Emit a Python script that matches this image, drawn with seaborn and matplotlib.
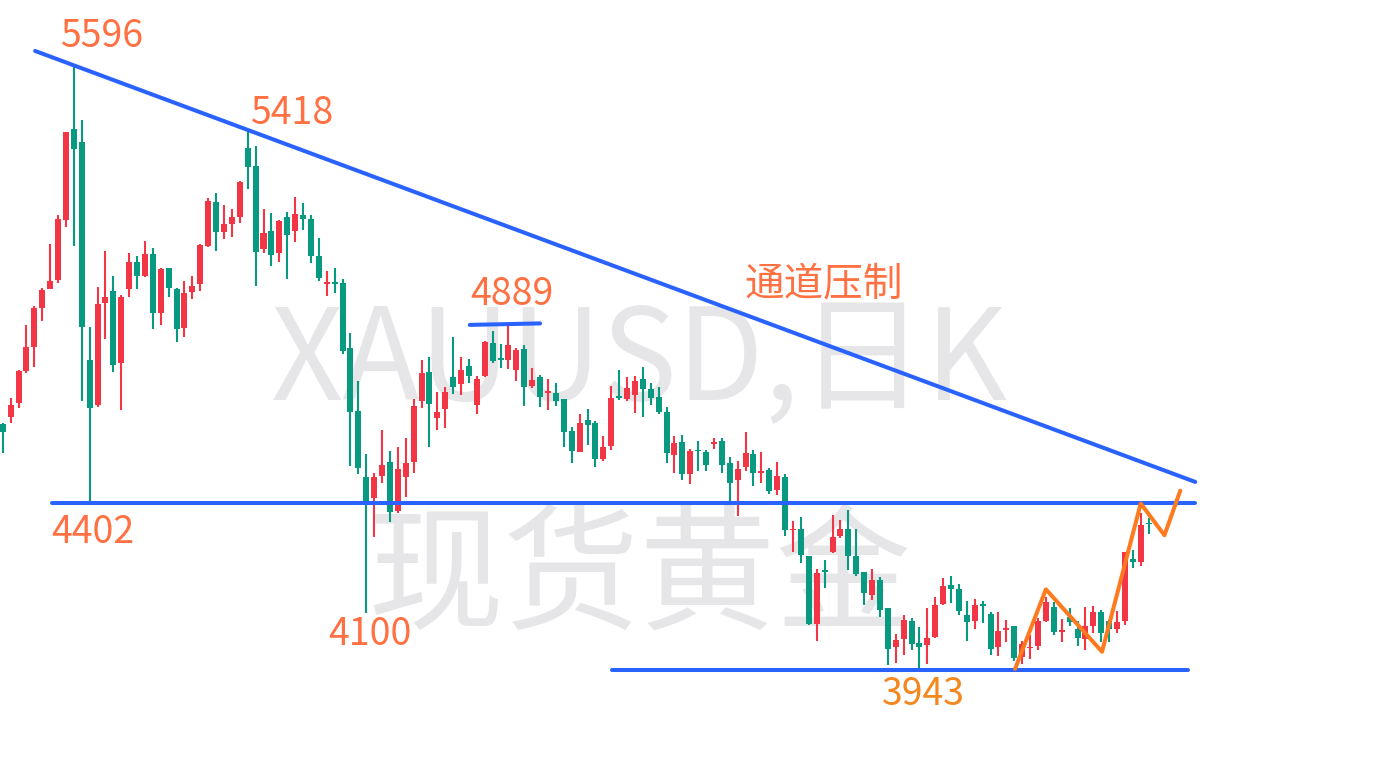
import matplotlib
matplotlib.use("Agg", force=True)
import matplotlib.pyplot as plt
import numpy as np
import seaborn as sns

# daily XAUUSD candles
opens = [4618, 4638, 4676, 4764, 4829, 4936, 4988, 5012, 5176, 5425,
         5390, 4793, 4670, 4950, 4982, 4785, 4986, 5061, 5023, 5083,
         4922, 5045, 4987, 4881, 4980, 5001, 5105, 5225, 5144, 5165,
         5185, 5373, 5324, 5098, 5146, 5086, 5184, 5147, 5190, 5179,
         5078, 5001, 5006, 5004, 4826, 4653, 4473, 4416, 4476, 4514,
         4380, 4473, 4514, 4681, 4761, 4635, 4660, 4746, 4728, 4776,
         4670, 4750, 4839, 4798, 4793, 4766, 4823, 4722, 4746, 4702,
         4702, 4686, 4598, 4542, 4629, 4620, 4523, 4558, 4693, 4687,
         4698, 4741, 4713, 4692, 4650, 4533, 4568, 4482, 4547, 4542,
         4564, 4572, 4511, 4464, 4501, 4535, 4484, 4492, 4438, 4473,
         4327, 4331, 4256, 4070, 4217, 4266, 4312, 4331, 4256, 4212,
         4150, 4191, 4114, 4008, 4030, 4078, 4017, 4013, 4034, 4125,
         4177, 4166, 4095, 4079, 4124, 4097, 4006, 4053, 4065, 3979,
         4004, 4011, 4078, 4117, 4049, 4090, 4056, 4028, 4065, 4104,
         4079, 4056, 4079, 4247, 4241, 4347]
highs = [4621, 4688, 4765, 4889, 4941, 4990, 5110, 5190, 5417, 5596,
         5450, 4884, 4993, 5091, 5023, 4971, 5087, 5078, 5119, 5100,
         5045, 5045, 4990, 5009, 5023, 5110, 5236, 5251, 5217, 5206,
         5282, 5418, 5379, 5206, 5195, 5175, 5198, 5239, 5223, 5190,
         5127, 5037, 5045, 5015, 4867, 4735, 4535, 4483, 4601, 4544,
         4555, 4580, 4686, 4793, 4801, 4706, 4719, 4856, 4801, 4796,
         4749, 4846, 4872, 4838, 4889, 4827, 4834, 4771, 4752, 4741,
         4730, 4687, 4609, 4645, 4659, 4627, 4585, 4722, 4765, 4746,
         4750, 4774, 4729, 4719, 4664, 4585, 4588, 4550, 4572, 4547,
         4579, 4579, 4527, 4517, 4597, 4547, 4542, 4498, 4514, 4481,
         4352, 4363, 4257, 4221, 4245, 4369, 4355, 4382, 4330, 4212,
         4221, 4198, 4114, 4043, 4094, 4086, 4062, 4114, 4144, 4196,
         4201, 4180, 4133, 4138, 4132, 4104, 4103, 4080, 4065, 4023,
         4040, 4086, 4145, 4131, 4083, 4115, 4078, 4117, 4119, 4108,
         4080, 4105, 4268, 4273, 4375, 4359]
lows = [4537, 4620, 4661, 4756, 4773, 4900, 4988, 5005, 5158, 5106,
        4681, 4402, 4665, 4851, 4761, 4656, 4966, 4988, 5021, 4879,
        4889, 4966, 4843, 4855, 4961, 4983, 5102, 5092, 5124, 5130,
        5168, 5262, 4996, 5086, 5051, 5062, 5015, 5117, 5149, 5058,
        5010, 4969, 4976, 4809, 4503, 4481, 4100, 4308, 4457, 4350,
        4375, 4419, 4483, 4662, 4555, 4602, 4608, 4701, 4698, 4731,
        4646, 4747, 4785, 4772, 4769, 4736, 4668, 4716, 4665, 4657,
        4668, 4555, 4512, 4540, 4561, 4501, 4516, 4547, 4683, 4681,
        4649, 4637, 4670, 4644, 4512, 4483, 4465, 4454, 4490, 4490,
        4550, 4483, 4402, 4367, 4490, 4448, 4457, 4427, 4424, 4312,
        4268, 4238, 4067, 4024, 4169, 4264, 4306, 4218, 4202, 4123,
        4135, 4090, 3959, 3964, 3984, 4000, 3943, 3961, 4031, 4122,
        4128, 4094, 4023, 4056, 4074, 3986, 3983, 4021, 3970, 3960,
        3974, 3999, 4076, 4041, 4022, 4065, 4011, 3998, 4045, 4020,
        4022, 4045, 4067, 4224, 4230, 4316]
closes = [4597, 4670, 4763, 4829, 4936, 4985, 5009, 5179, 5417, 5371,
          4884, 4662, 4946, 4965, 4779, 4965, 5061, 5023, 5083, 4922,
          5043, 4991, 4879, 4976, 4995, 5108, 5229, 5144, 5165, 5184,
          5280, 5322, 5089, 5141, 5080, 5173, 5136, 5193, 5179, 5078,
          5018, 5006, 5002, 4818, 4651, 4498, 4408, 4473, 4506, 4378,
          4494, 4511, 4667, 4758, 4673, 4650, 4705, 4720, 4765, 4750,
          4741, 4841, 4789, 4792, 4834, 4820, 4720, 4738, 4692, 4709,
          4681, 4597, 4545, 4621, 4616, 4523, 4555, 4689, 4688, 4716,
          4735, 4713, 4690, 4650, 4539, 4565, 4482, 4545, 4543, 4506,
          4568, 4506, 4457, 4494, 4538, 4484, 4490, 4435, 4475, 4328,
          4330, 4260, 4070, 4210, 4213, 4308, 4330, 4257, 4206, 4156,
          4191, 4109, 4002, 4026, 4081, 4016, 4008, 4031, 4122, 4174,
          4165, 4106, 4076, 4122, 4120, 4002, 4051, 4058, 3978, 4014,
          4008, 4078, 4131, 4049, 4053, 4076, 4031, 4065, 4104, 4045,
          4056, 4076, 4268, 4241, 4341, 4343]

# drawn annotations: trend line, support lines, zigzag path
trend_x = [4.1, 150.9]
trend_y = [5639, 4459]
support_hi_x = [6.2, 150.9]
support_hi_y = [4402, 4402]
support_lo_x = [77.1, 150.0]
support_lo_y = [3945, 3945]
top_mark_x = [59.1, 68.0]
top_mark_y = [4889, 4893]
zig_x = [128.1, 132.0, 139.1, 144.0, 147.0, 149.0]
zig_y = [3947, 4165, 3994, 4400, 4313, 4435]

UP = "#F23645"
DOWN = "#089981"
BLUE = "#2962FF"
LABEL = "#FF7143"

sns.set_theme(style="white")
plt.rcParams["font.family"] = ["Noto Sans CJK SC", "DejaVu Sans"]

fig = plt.figure(figsize=(13.9, 7.72), dpi=100)
ax = fig.add_axes([0, 0, 1, 1])
ax.set_axis_off()

idx = np.arange(len(opens))
o = np.array(opens, dtype=float)
c = np.array(closes, dtype=float)
colors = [UP if cc >= oo else DOWN for oo, cc in zip(o, c)]

# watermark
ax.text(80.5, 4683, "XAUUSD,日K", fontsize=91, color="#E6E6E8",
        ha="center", va="baseline", zorder=0)
ax.text(80.6, 4188, "现货黄金", fontsize=98, color="#E6E6E8",
        ha="center", va="center", zorder=0)

ax.vlines(idx, lows, highs, colors=colors, linewidth=1.5, zorder=2)
body = np.maximum(np.abs(c - o), 2.8)
ax.bar(idx, body, bottom=np.minimum(o, c), width=0.76, color=colors,
       linewidth=0, zorder=3)

for xs, ys in [(trend_x, trend_y), (support_hi_x, support_hi_y),
               (support_lo_x, support_lo_y), (top_mark_x, top_mark_y)]:
    sns.lineplot(x=xs, y=ys, ax=ax, color=BLUE, linewidth=2.9, sort=False,
                 zorder=4)
sns.lineplot(x=zig_x, y=zig_y, ax=ax, color="#FF7A1E", linewidth=2.9,
             sort=False, zorder=5)

labels = [(7.25, 5650, "5596"), (31.3, 5439, "5418"), (59.1, 4943, "4889"),
          (6.2, 4292, "4402"), (41.2, 4012, "4100")]
for x, y, s in labels:
    ax.text(x, y, s, fontsize=27, color=LABEL, ha="left", va="baseline",
            zorder=6)
ax.text(111.3, 3848, "3943", fontsize=27, color="#F5871F", ha="left",
        va="baseline", zorder=6)
ax.text(93.9, 4999, "通道压制", fontsize=28.5, color=LABEL, ha="left",
        va="center", zorder=6)

ax.set_xlim(-0.342, 175.54)
ax.set_ylim(3664.8, 5778.5)

fig.savefig("out.png", dpi=100)
